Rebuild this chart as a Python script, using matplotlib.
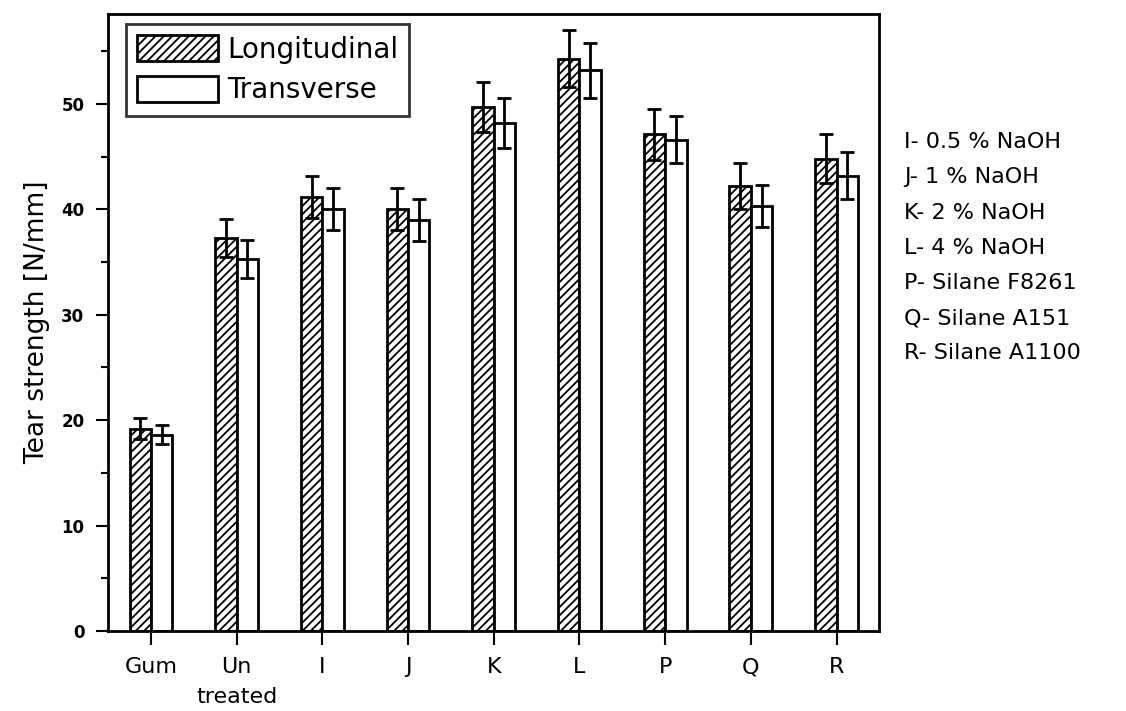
import numpy as np
import matplotlib
matplotlib.use("Agg")
import matplotlib.pyplot as plt
from matplotlib.ticker import MultipleLocator

plt.rcParams['font.family'] = ['DejaVu Sans']
plt.rcParams['hatch.linewidth'] = 1.3

samples = ["Gum", "Un\ntreated", "I", "J", "K", "L", "P", "Q", "R"]
longitudinal = [19.2, 37.3, 41.2, 40.0, 49.7, 54.3, 47.1, 42.2, 44.8]
long_err = [1.0, 1.8, 2.0, 2.0, 2.4, 2.7, 2.4, 2.2, 2.3]
transverse = [18.6, 35.3, 40.0, 39.0, 48.2, 53.2, 46.6, 40.3, 43.2]
trans_err = [0.9, 1.8, 2.0, 2.0, 2.4, 2.6, 2.2, 2.0, 2.2]
treatments = ["I- 0.5 % NaOH", "J- 1 % NaOH", "K- 2 % NaOH", "L- 4 % NaOH",
              "P- Silane F8261", "Q- Silane A151", "R- Silane A1100"]

x = np.arange(len(samples))
w = 0.25

fig = plt.figure(figsize=(11.26, 7.11), dpi=100)
ax = fig.add_axes([0.096, 0.1125, 0.685, 0.8675])

ax.bar(x, longitudinal, width=-w, align='edge', color='white', edgecolor='black',
       linewidth=2, hatch='////', label='Longitudinal', zorder=2)
ax.bar(x, transverse, width=w, align='edge', color='white', edgecolor='black',
       linewidth=2, label='Transverse', zorder=2)
ax.errorbar(x - w / 2, longitudinal, yerr=long_err, fmt='none', ecolor='black',
            elinewidth=2, capsize=5, capthick=2, zorder=3)
ax.errorbar(x + w / 2, transverse, yerr=trans_err, fmt='none', ecolor='black',
            elinewidth=2, capsize=5, capthick=2, zorder=3)

ax.set_xlim(-0.5, 8.5)
ax.set_ylim(0, 58.5)
ax.set_xticks(x)
ax.set_xticklabels(samples, fontsize=16, linespacing=1.6, va='top')
ax.yaxis.set_major_locator(MultipleLocator(10))
ax.yaxis.set_minor_locator(MultipleLocator(5))
ax.tick_params(axis='y', which='major', direction='out', length=9, width=1.5,
               labelsize=12, pad=8)
ax.tick_params(axis='y', which='minor', direction='out', length=5, width=1.5)
ax.tick_params(axis='x', direction='out', length=10, width=1.5, pad=9)
for lbl in ax.get_yticklabels():
    lbl.set_fontweight('bold')
for s in ax.spines.values():
    s.set_linewidth(2)

ax.set_ylabel("Tear strength [N/mm]", fontsize=19, labelpad=8)

leg = ax.legend(loc='upper left', fontsize=20, frameon=True, fancybox=False,
                edgecolor='black', handlelength=2.9, handleheight=1.05,
                handletextpad=0.35, borderpad=0.4, labelspacing=0.45,
                borderaxespad=0, bbox_to_anchor=(0.023, 0.984))
leg.get_frame().set_linewidth(2)

for i, t in enumerate(treatments):
    fig.text(0.803, 0.8 - i * 0.0495, t, fontsize=16, va='center', ha='left')

fig.savefig("out.png", dpi=100)
